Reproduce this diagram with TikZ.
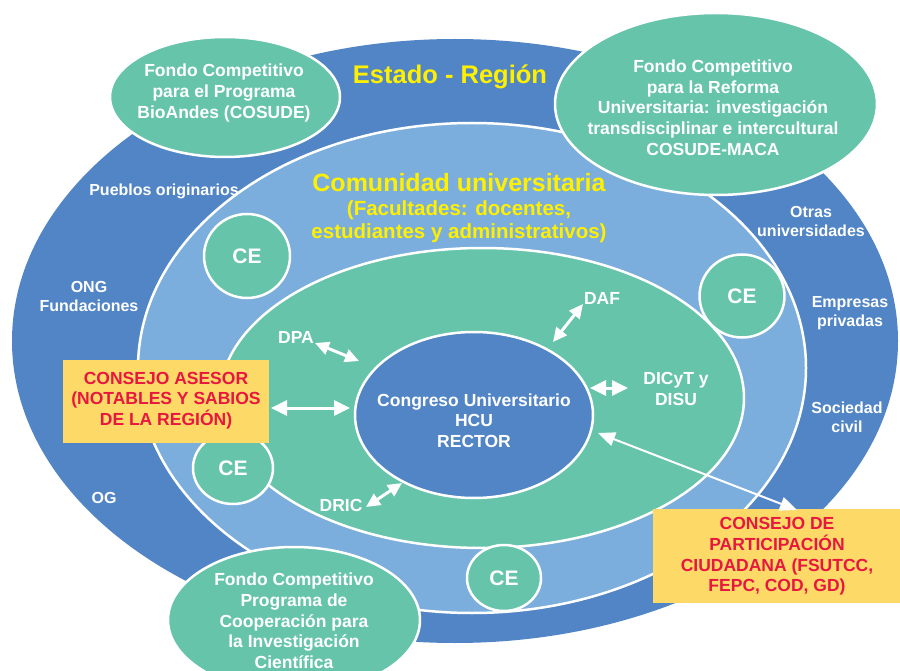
\documentclass[tikz,border=0pt]{standalone}
\usepackage{fontspec}
\setmainfont{Liberation Sans}
\usetikzlibrary{shapes.geometric,arrows.meta}
\definecolor{dblue}{HTML}{5185C5}
\definecolor{lblue}{HTML}{7BAEDC}
\definecolor{fgreen}{HTML}{66C4AA}
\definecolor{boxy}{HTML}{FDD968}
\definecolor{bred}{HTML}{E8173F}
\definecolor{tyellow}{HTML}{FFF000}
\newcommand\myfs[2]{\fontsize{#1}{#2}\selectfont}
\tikzset{
  ring/.style={ellipse, draw=white, line width=2.5pt, inner sep=0pt, outer sep=0pt},
  gring/.style={ring, fill=fgreen},
  ce/.style={ring, fill=fgreen, text=white, font=\bfseries\myfs{21}{24}},
  lbl/.style={text=white, font=\bfseries\myfs{16}{19}, align=center, inner sep=0pt},
  ftxt/.style={text=white, font=\bfseries\myfs{17.5}{20.7}, align=center, inner sep=0pt},
  ytxt/.style={text=tyellow, align=center, inner sep=0pt},
  cbox/.style={fill=boxy, inner sep=0pt},
  rtxt/.style={text=bred, font=\bfseries\myfs{17.5}{20.6}, align=center, inner sep=0pt},
  arr/.style={white, line width=3pt, {Triangle[width=15pt,length=16pt]}-{Triangle[width=15pt,length=16pt]}},
  sarr/.style={white, line width=3pt, {Triangle[width=13pt,length=14pt]}-{Triangle[width=13pt,length=14pt]}},
  larr/.style={white, line width=2pt, {Triangle[width=14pt,length=17pt]}-{Triangle[width=14pt,length=17pt]}}
}
\begin{document}
\begin{tikzpicture}[x=1pt,y=-1pt]
\useasboundingbox (0,0) rectangle (900,671);
\clip (0,0) rectangle (900,671);
\fill[white] (0,0) rectangle (900,671);

% rings
\node[ellipse, fill=dblue, minimum width=886pt, minimum height=604pt, inner sep=0pt] (estado) at (455,341) {};
\node[ring, fill=lblue, minimum width=668pt, minimum height=490pt] (comunidad) at (472,368) {};
\node[gring, minimum width=524pt, minimum height=300pt] (inner) at (482,398) {};
\node[ring, fill=dblue, minimum width=238pt, minimum height=166pt] (congreso) at (474,415) {};

% fondos
\node[gring, minimum width=230pt, minimum height=120pt] (bio) at (225,97) {};
\node[gring, minimum width=322pt, minimum height=182pt] (reforma) at (716,104) {};
\node[gring, minimum width=252pt, minimum height=146pt] (coop) at (294,620) {};

\node[ftxt] (biot) at (224,93) {Fondo Competitivo\\para el Programa\\BioAndes (COSUDE)};
\node[ftxt] (reft) at (713,107.5) {Fondo Competitivo\\para la Reforma\\Universitaria: investigación\\transdisciplinar e intercultural\\COSUDE-MACA};
\node[ftxt] (coopt) at (294,621) {Fondo Competitivo\\Programa de\\Cooperación para\\la Investigación\\Científica};

% CE circles
\node[ce, minimum width=86pt, minimum height=84pt] (ce1) at (247,256) {CE};
\node[ce, minimum width=85pt, minimum height=83pt] (ce2) at (742,296) {CE};
\node[ce, minimum width=80pt, minimum height=72pt] (ce3) at (233,468) {CE};
\node[ce, minimum width=74pt, minimum height=66pt] (ce4) at (504,578) {CE};

% titles
\node[ytxt, font=\bfseries\myfs{25.5}{28}] (estt) at (450,77) {Estado - Región};
\node[ytxt, font=\bfseries\myfs{25}{28}] (comt) at (459,183) {Comunidad universitaria};
\node[ytxt, font=\bfseries\myfs{20.5}{23}] (comt2) at (459,221.5) {(Facultades: docentes,\\estudiantes y administrativos)};

% outer labels
\node[lbl] (pueblos) at (164,191) {Pueblos originarios};
\node[lbl] (ong) at (89,296.5) {ONG\\Fundaciones};
\node[lbl] (og) at (104,498) {OG};
\node[lbl] (otras) at (811,221.5) {Otras\\universidades};
\node[lbl] (empresas) at (850,313.5) {Empresas\\privadas};
\node[lbl] (sociedad) at (847,417.5) {Sociedad\\civil};

% inner labels
\node[ftxt] (dpa) at (296,337) {DPA};
\node[ftxt] (daf) at (602,298) {DAF};
\node[ftxt] (dicyt) at (676,389) {DICyT y\\DISU};
\node[ftxt] (dric) at (341,505) {DRIC};
\node[ftxt] (congt) at (474,420.5) {Congreso Universitario\\HCU\\RECTOR};

% boxes
\node[cbox, minimum width=206pt, minimum height=83pt] (asesor) at (166,401.5) {};
\node[rtxt] (asesort) at (166,400.5) {CONSEJO ASESOR\\(NOTABLES Y SABIOS\\DE LA REGIÓN)};
\node[cbox, minimum width=250pt, minimum height=94pt] (cpc) at (778,556) {};

% arrows
\coordinate (dpaA) at (315,343);  \coordinate (dpaB) at (359,361);
\coordinate (dafA) at (553,342);  \coordinate (dafB) at (583,304);
\coordinate (dricA) at (366,507); \coordinate (dricB) at (402,483);
\coordinate (dicA) at (590,388);  \coordinate (dicB) at (628,388);
\coordinate (aseA) at (271,408);  \coordinate (aseB) at (350,408);
\coordinate (cpcA) at (598,433);  \coordinate (cpcB) at (797,510);
\draw[sarr] (dpaA) -- (dpaB);
\draw[sarr] (dafA) -- (dafB);
\draw[sarr] (dricA) -- (dricB);
\draw[arr] (dicA) -- (dicB);
\draw[arr] (aseA) -- (aseB);
\draw[larr] (cpcA) -- (cpcB);

\node[rtxt] (cpct) at (777,556.5) {CONSEJO DE\\PARTICIPACIÓN\\CIUDADANA (FSUTCC,\\FEPC, COD, GD)};
\end{tikzpicture}
\end{document}
